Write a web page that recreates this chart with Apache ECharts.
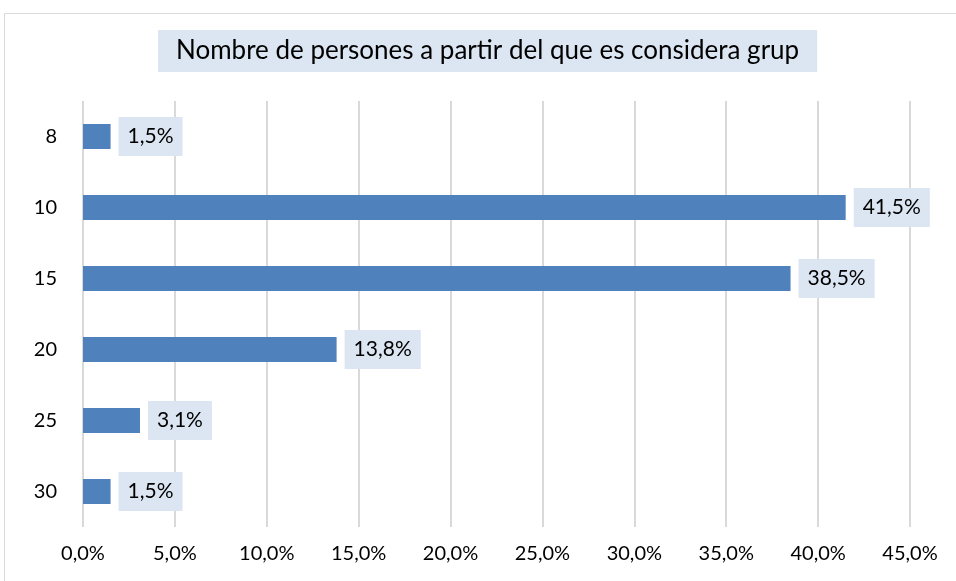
<!DOCTYPE html>
<html>
<head>
<meta charset="utf-8">
<script src="https://cdn.jsdelivr.net/npm/echarts@6/dist/echarts.min.js"></script>
<style>
  html, body { margin: 0; padding: 0; background: #fff; }
  #chart { width: 956px; height: 581px; }
</style>
</head>
<body>
<div id="chart"></div>
<script>
// categories, top to bottom
const categories = ['8', '10', '15', '20', '25', '30'];
// percentages
const values = [1.5, 41.5, 38.5, 13.8, 3.1, 1.5];
const xTicks = { min: 0, max: 45, interval: 5 };

// comma as decimal separator
function pct(v) {
  return v.toFixed(1).replace('.', ',') + '%';
}

const chart = echarts.init(document.getElementById('chart'));
chart.setOption({
  animation: false,
  textStyle: { fontFamily: 'Lato, "Open Sans", sans-serif' },
  graphic: [{
    type: 'rect',
    shape: { x: 4.5, y: 13.5, width: 1000, height: 700 },
    style: { fill: 'none', stroke: '#D9D9D9', lineWidth: 1 },
    silent: true
  }],
  title: {
    text: 'Nombre de persones a partir del que es considera grup',
    left: 158,
    top: 30,
    backgroundColor: '#DCE6F2',
    padding: [8, 18],
    textStyle: { fontSize: 26, fontWeight: 'normal', color: '#000' }
  },
  grid: { left: 83, right: 46, top: 101, bottom: 54 },
  xAxis: {
    type: 'value',
    min: xTicks.min,
    max: xTicks.max,
    interval: xTicks.interval,
    axisLine: { show: false },
    axisTick: { show: false },
    splitLine: { lineStyle: { color: '#D9D9D9', width: 2 } },
    axisLabel: { formatter: pct, color: '#000', fontSize: 20, margin: 17 }
  },
  yAxis: {
    type: 'category',
    inverse: true,
    data: categories,
    axisLine: { show: false },
    axisTick: { show: false },
    axisLabel: { color: '#000', fontSize: 20, margin: 26 }
  },
  series: [{
    type: 'bar',
    data: values,
    barWidth: 25,
    itemStyle: { color: '#4F81BD' },
    label: {
      show: true,
      position: 'right',
      distance: 8,
      formatter: p => pct(p.value),
      backgroundColor: '#DCE6F2',
      padding: [9, 9, 9, 9],
      color: '#000',
      fontSize: 21
    }
  }]
});
</script>
</body>
</html>
